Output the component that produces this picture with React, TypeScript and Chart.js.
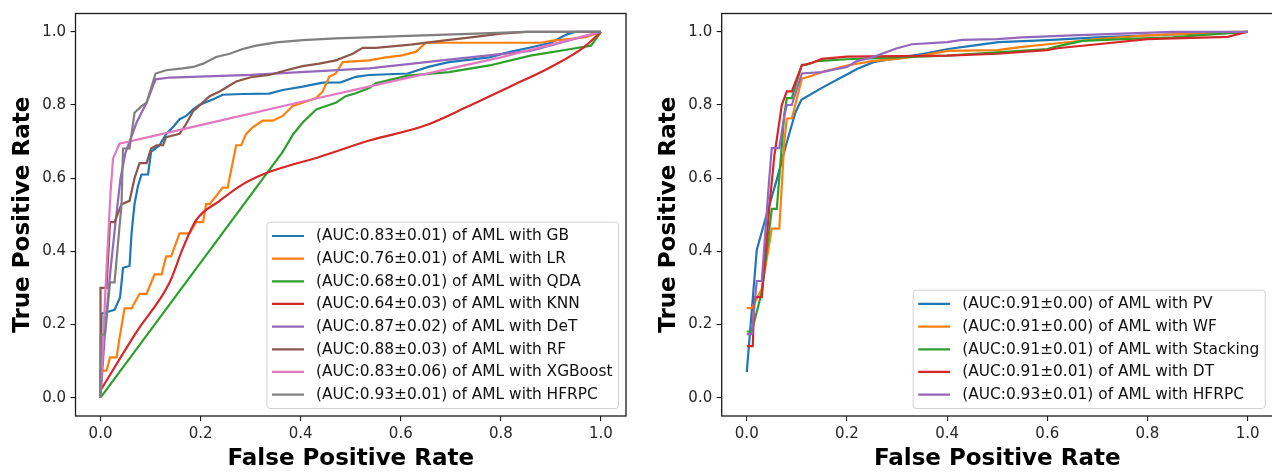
import React, { useEffect, useRef } from "react";
import { Chart, registerables } from "chart.js";

Chart.register(...registerables);

// ---------- data ----------
const AXIS_TICKS = [0, 0.2, 0.4, 0.6, 0.8, 1.0];
const X_TITLE = "False Positive Rate";
const Y_TITLE = "True Positive Rate";

const LEFT_LABELS = [
  "(AUC:0.83±0.01) of AML with GB",
  "(AUC:0.76±0.01) of AML with LR",
  "(AUC:0.68±0.01) of AML with QDA",
  "(AUC:0.64±0.03) of AML with KNN",
  "(AUC:0.87±0.02) of AML with DeT",
  "(AUC:0.88±0.03) of AML with RF",
  "(AUC:0.83±0.06) of AML with XGBoost",
  "(AUC:0.93±0.01) of AML with HFRPC",
];
const LEFT_COLORS = ["#1f77b4", "#ff7f0e", "#2ca02c", "#d62728", "#9467bd", "#8c564b", "#e377c2", "#7f7f7f"];

const RIGHT_LABELS = [
  "(AUC:0.91±0.00) of AML with PV",
  "(AUC:0.91±0.00) of AML with WF",
  "(AUC:0.91±0.01) of AML with Stacking",
  "(AUC:0.91±0.01) of AML with DT",
  "(AUC:0.93±0.01) of AML with HFRPC",
];
const RIGHT_COLORS = ["#1f77b4", "#ff7f0e", "#2ca02c", "#d62728", "#9467bd"];

// [FPR, TPR] pairs
const GB = [[0,0],[0.002,0.23],[0.015,0.235],[0.028,0.24],[0.039,0.274],[0.045,0.355],[0.058,0.36],[0.062,0.45],[0.068,0.53],[0.075,0.58],[0.082,0.61],[0.095,0.61],[0.101,0.672],[0.118,0.69],[0.131,0.72],[0.145,0.74],[0.158,0.761],[0.171,0.77],[0.185,0.788],[0.198,0.801],[0.224,0.815],[0.244,0.828],[0.284,0.83],[0.337,0.831],[0.364,0.841],[0.404,0.85],[0.444,0.861],[0.48,0.862],[0.51,0.877],[0.537,0.882],[0.614,0.886],[0.655,0.904],[0.696,0.917],[0.777,0.93],[0.818,0.945],[0.859,0.957],[0.9,0.97],[0.932,0.993],[0.95,1.0],[1,1]];
const LR = [[0,0],[0,0.074],[0.012,0.074],[0.019,0.11],[0.032,0.11],[0.038,0.163],[0.048,0.244],[0.062,0.244],[0.078,0.284],[0.092,0.284],[0.108,0.337],[0.122,0.337],[0.131,0.386],[0.141,0.386],[0.158,0.449],[0.178,0.449],[0.191,0.48],[0.205,0.48],[0.211,0.529],[0.218,0.529],[0.231,0.551],[0.244,0.574],[0.254,0.574],[0.271,0.69],[0.281,0.69],[0.291,0.721],[0.304,0.739],[0.324,0.757],[0.344,0.757],[0.364,0.77],[0.384,0.797],[0.404,0.806],[0.431,0.819],[0.444,0.837],[0.457,0.877],[0.47,0.886],[0.484,0.917],[0.537,0.922],[0.57,0.93],[0.6,0.935],[0.63,0.945],[0.65,0.97],[0.88,0.97],[0.9,0.975],[0.97,0.985],[1,1]];
const QDA = [[0,0],[0.364,0.672],[0.385,0.72],[0.404,0.752],[0.431,0.788],[0.451,0.797],[0.47,0.806],[0.49,0.824],[0.51,0.832],[0.537,0.846],[0.55,0.859],[0.614,0.88],[0.696,0.89],[0.777,0.908],[0.859,0.935],[0.94,0.953],[0.98,0.962],[1,1]];
const KNN = [[0,0.02],[0.072,0.18],[0.138,0.315],[0.165,0.41],[0.191,0.485],[0.238,0.538],[0.284,0.583],[0.324,0.61],[0.371,0.632],[0.437,0.658],[0.537,0.703],[0.647,0.743],[0.736,0.797],[0.818,0.85],[0.9,0.904],[0.965,0.957],[1,1]];
const DET = [[0,0],[0.01,0.2],[0.02,0.35],[0.03,0.48],[0.04,0.6],[0.05,0.67],[0.072,0.752],[0.092,0.806],[0.11,0.87],[0.138,0.875],[0.3,0.882],[0.537,0.9],[0.696,0.924],[0.859,0.948],[1,1]];
const RF = [[0,0],[0,0.3],[0.012,0.3],[0.019,0.48],[0.028,0.48],[0.042,0.529],[0.058,0.538],[0.068,0.6],[0.078,0.641],[0.092,0.641],[0.101,0.681],[0.112,0.69],[0.125,0.69],[0.131,0.712],[0.158,0.721],[0.171,0.748],[0.185,0.783],[0.198,0.799],[0.218,0.824],[0.238,0.837],[0.271,0.864],[0.304,0.877],[0.337,0.882],[0.371,0.895],[0.404,0.906],[0.437,0.913],[0.47,0.922],[0.504,0.94],[0.524,0.956],[0.55,0.956],[0.62,0.965],[0.68,0.975],[0.74,0.985],[0.8,0.995],[0.85,1],[1,1]];
const XGB = [[0,0],[0.01,0.3],[0.02,0.56],[0.025,0.654],[0.038,0.694],[0.2,0.745],[0.4,0.808],[0.6,0.87],[0.8,0.93],[1,1]];
const HFRPC_L = [[0,0],[0,0.172],[0.009,0.172],[0.019,0.315],[0.028,0.315],[0.042,0.529],[0.045,0.681],[0.058,0.681],[0.068,0.779],[0.082,0.797],[0.092,0.806],[0.11,0.886],[0.131,0.895],[0.164,0.9],[0.185,0.904],[0.205,0.913],[0.231,0.931],[0.258,0.94],[0.284,0.953],[0.311,0.962],[0.351,0.971],[0.404,0.977],[0.47,0.982],[0.517,0.984],[0.6,0.988],[0.75,0.995],[0.85,1],[1,1]];

const PV = [[0,0.07],[0.02,0.404],[0.04,0.502],[0.06,0.596],[0.08,0.698],[0.097,0.779],[0.109,0.814],[0.149,0.846],[0.197,0.881],[0.221,0.899],[0.253,0.917],[0.3,0.928],[0.35,0.939],[0.402,0.953],[0.455,0.963],[0.503,0.972],[0.6,0.977],[0.7,0.985],[0.8,0.99],[0.9,0.995],[1,1]];
const WF = [[0,0.245],[0.01,0.245],[0.03,0.297],[0.05,0.462],[0.065,0.462],[0.075,0.7],[0.08,0.763],[0.09,0.763],[0.11,0.872],[0.13,0.88],[0.15,0.89],[0.2,0.908],[0.25,0.92],[0.3,0.926],[0.35,0.935],[0.4,0.948],[0.5,0.95],[0.55,0.959],[0.63,0.97],[0.7,0.98],[0.8,0.99],[0.97,1],[1,1]];
const STACKING = [[0,0.181],[0.01,0.181],[0.03,0.288],[0.05,0.516],[0.06,0.516],[0.075,0.774],[0.08,0.819],[0.09,0.819],[0.11,0.91],[0.12,0.91],[0.14,0.92],[0.2,0.925],[0.3,0.93],[0.4,0.935],[0.5,0.944],[0.6,0.953],[0.62,0.96],[0.67,0.975],[0.75,0.98],[0.85,0.985],[0.9,0.99],[1,1]];
const DT = [[0,0.141],[0.012,0.141],[0.015,0.275],[0.03,0.275],[0.045,0.52],[0.055,0.66],[0.07,0.8],[0.08,0.837],[0.09,0.837],[0.11,0.908],[0.13,0.915],[0.15,0.926],[0.2,0.932],[0.4,0.935],[0.5,0.94],[0.6,0.95],[0.62,0.955],[0.7,0.966],[0.8,0.98],[0.96,0.986],[1,1]];
const HFRPC_R = [[0,0.174],[0.01,0.174],[0.02,0.319],[0.03,0.319],[0.045,0.6],[0.05,0.682],[0.065,0.682],[0.075,0.77],[0.08,0.8],[0.09,0.8],[0.11,0.886],[0.15,0.89],[0.2,0.904],[0.22,0.92],[0.25,0.93],[0.27,0.94],[0.3,0.955],[0.33,0.966],[0.4,0.972],[0.43,0.978],[0.5,0.98],[0.55,0.985],[0.65,0.99],[0.75,0.995],[0.85,1],[1,1]];

const LEFT_SERIES = [GB, LR, QDA, KNN, DET, RF, XGB, HFRPC_L];
const RIGHT_SERIES = [PV, WF, STACKING, DT, HFRPC_R];
const SMOOTH = [false, false, false, true, false, false, false, false];

// ---------- chart helpers ----------
const FONT = '"DejaVu Sans", "Liberation Sans", sans-serif';

const framePlugin = {
  id: "frame",
  afterDatasetsDraw(chart: any) {
    const { ctx, chartArea: ca } = chart;
    ctx.save();
    ctx.strokeStyle = "#1a1a1a";
    ctx.lineWidth = 1.3;
    ctx.strokeRect(ca.left, ca.top, ca.right - ca.left, ca.bottom - ca.top);
    ctx.restore();
  },
};

const legendPlugin = {
  id: "rocLegend",
  afterDraw(chart: any, _args: any, opts: any) {
    const { ctx, chartArea: ca } = chart;
    const labels: string[] = opts.labels || [];
    const colors: string[] = opts.colors || [];
    const fs = 15.4;
    const rowH = 22.66;
    ctx.save();
    ctx.font = `${fs}px ${FONT}`;
    const maxW = Math.max(...labels.map((l) => ctx.measureText(l).width));
    const boxW = 49 + maxW + 6;
    const boxH = (labels.length - 1) * rowH + 27.7;
    const right = ca.right - 7.5;
    const bottom = ca.bottom - 7.5;
    const left = right - boxW;
    const top = bottom - boxH;
    ctx.beginPath();
    const r = 3;
    ctx.moveTo(left + r, top);
    ctx.lineTo(right - r, top);
    ctx.quadraticCurveTo(right, top, right, top + r);
    ctx.lineTo(right, bottom - r);
    ctx.quadraticCurveTo(right, bottom, right - r, bottom);
    ctx.lineTo(left + r, bottom);
    ctx.quadraticCurveTo(left, bottom, left, bottom - r);
    ctx.lineTo(left, top + r);
    ctx.quadraticCurveTo(left, top, left + r, top);
    ctx.closePath();
    ctx.fillStyle = "rgba(255,255,255,0.8)";
    ctx.fill();
    ctx.strokeStyle = "rgba(204,204,204,0.9)";
    ctx.lineWidth = 1;
    ctx.stroke();
    labels.forEach((lab, i) => {
      const y = top + 13.8 + i * rowH;
      ctx.strokeStyle = colors[i];
      ctx.lineWidth = 2.2;
      ctx.beginPath();
      ctx.moveTo(left + 5, y);
      ctx.lineTo(left + 37, y);
      ctx.stroke();
      ctx.fillStyle = "#111";
      ctx.textBaseline = "middle";
      ctx.textAlign = "left";
      ctx.fillText(lab, left + 49, y + 0.5);
    });
    ctx.restore();
  },
};

function makeConfig(series: number[][][], labels: string[], colors: string[], smooth: boolean[], lay: any) {
  const n = series.length;
  const datasets = series.map((pts, i) => ({
    label: labels[i],
    data: pts.map(([x, y]) => ({ x, y })),
    borderColor: colors[i],
    backgroundColor: colors[i],
    borderWidth: 2.2,
    pointRadius: 0,
    pointHoverRadius: 0,
    fill: false,
    tension: smooth[i] ? 0.4 : 0,
    cubicInterpolationMode: smooth[i] ? "monotone" : "default",
    order: n - 1 - i,
  }));
  const tickFont = { family: FONT, size: 15 };
  const titleFont = { family: FONT, size: 23, weight: "bold" as const };
  const grid = {
    display: true,
    drawOnChartArea: false,
    drawTicks: true,
    tickLength: 5,
    color: "#1a1a1a",
    lineWidth: 1.1,
  };
  return {
    type: "line" as const,
    data: { datasets },
    options: {
      animation: false,
      responsive: false,
      maintainAspectRatio: false,
      events: [],
      layout: { padding: { left: 0, top: 5, right: lay.padRight, bottom: 0 } },
      plugins: {
        legend: { display: false },
        tooltip: { enabled: false },
        rocLegend: { labels, colors },
      },
      scales: {
        x: {
          type: "linear",
          min: -0.05,
          max: 1.05,
          afterBuildTicks: (axis: any) => {
            axis.ticks = AXIS_TICKS.map((v) => ({ value: v }));
          },
          afterFit: (axis: any) => {
            axis.height = 59;
          },
          ticks: {
            font: tickFont,
            color: "#262626",
            padding: 4,
            maxRotation: 0,
            autoSkip: false,
            callback: (v: any) => Number(v).toFixed(1),
          },
          grid,
          border: { display: false },
          title: {
            display: true,
            text: X_TITLE,
            font: titleFont,
            color: "#000",
            padding: { top: 0, bottom: 2 },
          },
        },
        y: {
          type: "linear",
          min: -0.05,
          max: 1.05,
          afterBuildTicks: (axis: any) => {
            axis.ticks = AXIS_TICKS.map((v) => ({ value: v }));
          },
          afterFit: (axis: any) => {
            axis.width = lay.axisWidth;
          },
          ticks: {
            font: tickFont,
            color: "#262626",
            padding: 4.5,
            autoSkip: false,
            callback: (v: any) => Number(v).toFixed(1),
          },
          grid,
          border: { display: false },
          title: {
            display: true,
            text: Y_TITLE,
            font: titleFont,
            color: "#000",
            padding: { top: lay.yTitlePad, bottom: 0 },
          },
        },
      },
    },
    plugins: [framePlugin, legendPlugin],
  };
}

function RocChart(props: { series: number[][][]; labels: string[]; colors: string[]; smooth: boolean[]; lay: any; left: number }) {
  const ref = useRef<HTMLCanvasElement | null>(null);
  useEffect(() => {
    if (!ref.current) return;
    const chart = new Chart(ref.current, makeConfig(props.series, props.labels, props.colors, props.smooth, props.lay) as any);
    return () => chart.destroy();
  }, []);
  return (
    <canvas
      ref={ref}
      width={640}
      height={475}
      style={{ position: "absolute", left: props.left, top: 0, width: 640, height: 475 }}
    />
  );
}

export default function App() {
  return (
    <div
      style={{
        position: "fixed",
        left: 0,
        top: 0,
        width: 1272,
        height: 475,
        overflow: "hidden",
        background: "#fff",
      }}
    >
      <RocChart
        series={LEFT_SERIES}
        labels={LEFT_LABELS}
        colors={LEFT_COLORS}
        smooth={SMOOTH}
        lay={{ padRight: 14, axisWidth: 75.5, yTitlePad: 9.5 }}
        left={0}
      />
      <RocChart
        series={RIGHT_SERIES}
        labels={RIGHT_LABELS}
        colors={RIGHT_COLORS}
        smooth={[false, false, false, false, false]}
        lay={{ padRight: 7.3, axisWidth: 81.7, yTitlePad: 15.5 }}
        left={640}
      />
    </div>
  );
}
